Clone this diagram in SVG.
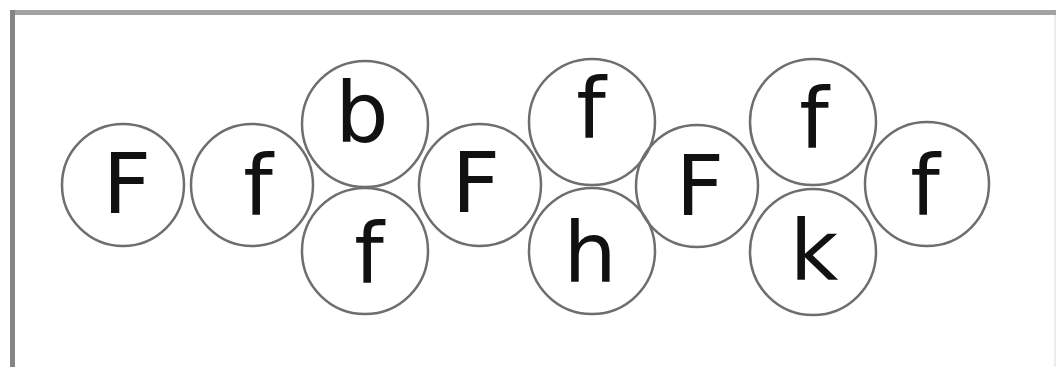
<svg xmlns="http://www.w3.org/2000/svg" width="1056" height="367" viewBox="0 0 1056 367">
<style>
.n circle{fill:none;stroke:#6e6e6e;stroke-width:2.5}
.n text{font-family:"DejaVu Sans",sans-serif;font-size:84px;fill:#111;text-anchor:middle}
</style>
<rect width="1056" height="367" fill="#fff"/>
<rect x="10" y="10" width="1046" height="5" fill="#a2a2a2"/>
<rect x="10" y="10" width="5" height="357" fill="#858585"/>
<rect x="1054" y="15" width="2" height="352" fill="#ececec"/>
<g id="connectors"></g>
<g id="n1" class="n"><circle cx="123" cy="185" r="61"/><text x="127" y="213">F</text></g>
<g id="n2" class="n"><circle cx="252" cy="185" r="61"/><text x="258" y="215">f</text></g>
<g id="n3" class="n"><circle cx="365" cy="124" r="63"/><text x="362" y="142">b</text></g>
<g id="n4" class="n"><circle cx="365" cy="251" r="63"/><text x="369" y="283">f</text></g>
<g id="n5" class="n"><circle cx="480" cy="185" r="61"/><text x="476" y="212">F</text></g>
<g id="n6" class="n"><circle cx="592" cy="122" r="63"/><text x="591" y="138">f</text></g>
<g id="n7" class="n"><circle cx="592" cy="251" r="63"/><text x="590" y="282">h</text></g>
<g id="n8" class="n"><circle cx="697" cy="186" r="61"/><text x="700" y="215">F</text></g>
<g id="n9" class="n"><circle cx="813" cy="122" r="63"/><text x="814" y="148">f</text></g>
<g id="n10" class="n"><circle cx="813" cy="252" r="63"/><text x="814" y="280">k</text></g>
<g id="n11" class="n"><circle cx="927" cy="184" r="62"/><text x="925" y="215">f</text></g>
</svg>
